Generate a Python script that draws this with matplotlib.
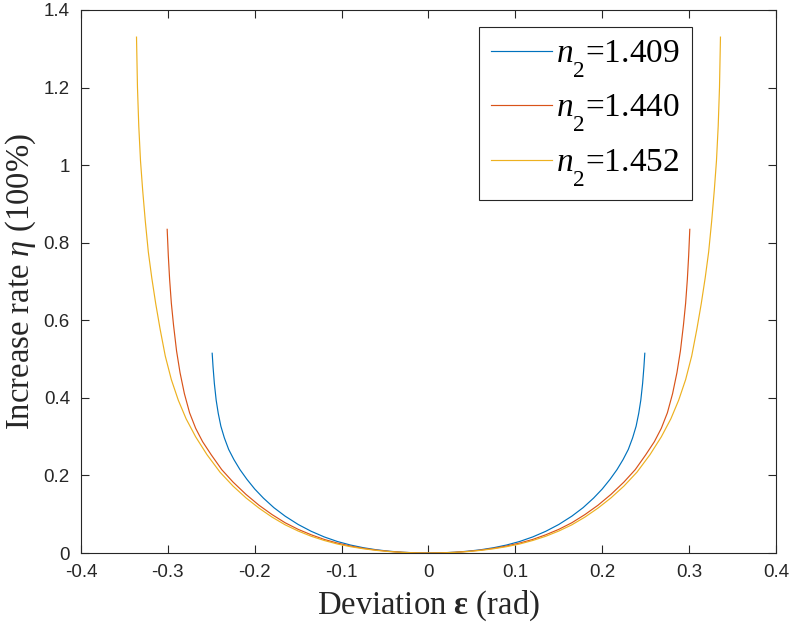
import numpy as np
import matplotlib
matplotlib.use("Agg")
import matplotlib.pyplot as plt
import matplotlib._mathtext as mathtext_internal

# values, left branch (eps < 0) then right branch (eps > 0)
eps_1409_left = [-0.249, -0.248, -0.2465, -0.2444, -0.242, -0.239, -0.235, -0.230, -0.224, -0.217,
                 -0.209, -0.200, -0.190, -0.178, -0.165, -0.150, -0.135, -0.120, -0.105, -0.090,
                 -0.075, -0.060, -0.045, -0.030, -0.015, 0.0]
eta_1409_left = [0.515, 0.480, 0.4375, 0.394, 0.360, 0.327, 0.297, 0.267, 0.241, 0.215,
                 0.190, 0.165, 0.1415, 0.117, 0.095, 0.0736, 0.056, 0.0415, 0.0298, 0.0207,
                 0.0137, 0.0084, 0.0046, 0.002, 0.0005, 0.0]
eps_1409_right = [0.015, 0.030, 0.045, 0.060, 0.075, 0.090, 0.105, 0.120, 0.135, 0.150,
                  0.165, 0.178, 0.190, 0.200, 0.209, 0.217, 0.224, 0.230, 0.235, 0.239,
                  0.242, 0.2444, 0.2465, 0.248, 0.249]
eta_1409_right = [0.0005, 0.002, 0.0046, 0.0084, 0.0137, 0.0207, 0.0298, 0.0415, 0.056, 0.0736,
                  0.095, 0.117, 0.1415, 0.165, 0.190, 0.215, 0.241, 0.267, 0.297, 0.327,
                  0.360, 0.394, 0.4375, 0.480, 0.515]

eps_1440_left = [-0.3008, -0.2995, -0.298, -0.296, -0.2935, -0.290, -0.286, -0.281, -0.275, -0.268,
                 -0.260, -0.250, -0.238, -0.225, -0.210, -0.195, -0.180, -0.165, -0.150, -0.135,
                 -0.120, -0.105, -0.090, -0.075, -0.060, -0.045, -0.030, -0.015, 0.0]
eta_1440_left = [0.8345, 0.767, 0.706, 0.644, 0.588, 0.521, 0.465, 0.411, 0.3615, 0.3215,
                 0.287, 0.253, 0.215, 0.183, 0.151, 0.123, 0.099, 0.078, 0.061, 0.047,
                 0.035, 0.0257, 0.0181, 0.0121, 0.0075, 0.0042, 0.0018, 0.0005, 0.0]
eps_1440_right = [0.015, 0.030, 0.045, 0.060, 0.075, 0.090, 0.105, 0.120, 0.135, 0.150,
                  0.165, 0.180, 0.195, 0.210, 0.225, 0.238, 0.250, 0.260, 0.268, 0.275,
                  0.281, 0.286, 0.290, 0.2935, 0.296, 0.298, 0.2995, 0.3008]
eta_1440_right = [0.0005, 0.0018, 0.0042, 0.0075, 0.0121, 0.0181, 0.0257, 0.035, 0.047, 0.061,
                  0.078, 0.099, 0.123, 0.151, 0.183, 0.215, 0.253, 0.287, 0.3215, 0.3615,
                  0.411, 0.465, 0.521, 0.588, 0.644, 0.706, 0.767, 0.8345]

eps_1452_left = [-0.3361, -0.3350, -0.3335, -0.3315, -0.329, -0.326, -0.3225, -0.3185, -0.314, -0.309,
                 -0.303, -0.296, -0.288, -0.279, -0.268, -0.255, -0.240, -0.225, -0.210, -0.195,
                 -0.180, -0.165, -0.150, -0.135, -0.120, -0.105, -0.090, -0.075, -0.060, -0.045,
                 -0.030, -0.015, 0.0]
eta_1452_left = [1.330, 1.201, 1.101, 1.011, 0.935, 0.856, 0.776, 0.709, 0.643, 0.578,
                 0.508, 0.447, 0.394, 0.346, 0.2995, 0.2536, 0.2085, 0.1726, 0.142, 0.1156,
                 0.0925, 0.0727, 0.0567, 0.0432, 0.0323, 0.0233, 0.0164, 0.011, 0.0068, 0.0037,
                 0.0016, 0.0004, 0.0]
eps_1452_right = [0.015, 0.030, 0.045, 0.060, 0.075, 0.090, 0.105, 0.120, 0.135, 0.150,
                  0.165, 0.180, 0.195, 0.210, 0.225, 0.240, 0.255, 0.268, 0.279, 0.288,
                  0.296, 0.303, 0.309, 0.314, 0.3185, 0.3225, 0.326, 0.329, 0.3315, 0.3335,
                  0.3350, 0.3361]
eta_1452_right = [0.0004, 0.0016, 0.0037, 0.0068, 0.011, 0.0164, 0.0233, 0.0323, 0.0432, 0.0567,
                  0.0727, 0.0925, 0.1156, 0.142, 0.1726, 0.2085, 0.2536, 0.2995, 0.346, 0.394,
                  0.447, 0.508, 0.578, 0.643, 0.709, 0.776, 0.856, 0.935, 1.011, 1.101,
                  1.201, 1.330]

labels = ['$n_2$=1.409', '$n_2$=1.440', '$n_2$=1.452']
colors = ['#0072BD', '#D95319', '#EDB120']

xticks = [-0.4, -0.3, -0.2, -0.1, 0, 0.1, 0.2, 0.3, 0.4]
yticks = [0, 0.2, 0.4, 0.6, 0.8, 1.0, 1.2, 1.4]
xticklabels = ['-0.4', '-0.3', '-0.2', '-0.1', '0', '0.1', '0.2', '0.3', '0.4']
yticklabels = ['0', '0.2', '0.4', '0.6', '0.8', '1', '1.2', '1.4']

plt.rcParams['axes.unicode_minus'] = False
plt.rcParams['mathtext.fontset'] = 'custom'
plt.rcParams['mathtext.rm'] = 'Liberation Serif'
plt.rcParams['mathtext.it'] = 'Liberation Serif:italic'
plt.rcParams['mathtext.bf'] = 'Liberation Serif:bold'
# MATLAB tex subscripts sit lower than matplotlib's default
mathtext_internal.FontConstantsBase.sub1 = 0.95

fig = plt.figure(figsize=(7.91, 6.35), dpi=100)
ax = fig.add_axes([0.1024, 0.1291, 0.8786, 0.8552])

curves = [(eps_1409_left + eps_1409_right, eta_1409_left + eta_1409_right),
          (eps_1440_left + eps_1440_right, eta_1440_left + eta_1440_right),
          (eps_1452_left + eps_1452_right, eta_1452_left + eta_1452_right)]
for (x, y), c, lab in zip(curves, colors, labels):
    ax.plot(x, y, color=c, lw=0.85, label=lab)

ax.set_xlim(-0.4, 0.4)
ax.set_ylim(0, 1.4)
ax.set_xticks(xticks)
ax.set_xticklabels(xticklabels)
ax.set_yticks(yticks)
ax.set_yticklabels(yticklabels)
ax.tick_params(direction='in', length=6, width=0.8, color='#262626',
               top=True, right=True, labelsize=13.5, labelcolor='#262626', pad=8)
for lbl in ax.get_xticklabels() + ax.get_yticklabels():
    lbl.set_family('Liberation Sans')
for s in ax.spines.values():
    s.set_color('#262626')
    s.set_linewidth(0.8)

ax.set_xlabel('Deviation $\\mathbf{\\varepsilon}$ (rad)', family='Liberation Serif',
              fontsize=23.5, color='#262626', labelpad=5)
ax.set_ylabel('Increase rate $\\eta$ (100%)', family='Liberation Serif',
              fontsize=23.5, color='#262626', labelpad=4)

leg = ax.legend(loc='upper right', bbox_to_anchor=(0.879, 0.969), borderaxespad=0,
                fancybox=False, edgecolor='#262626', framealpha=1,
                prop={'family': 'Liberation Serif', 'size': 24},
                handlelength=1.85, handletextpad=0.12,
                labelspacing=0.4, borderpad=0.35)
leg.get_frame().set_linewidth(0.8)

fig.savefig('out.png', dpi=100)
